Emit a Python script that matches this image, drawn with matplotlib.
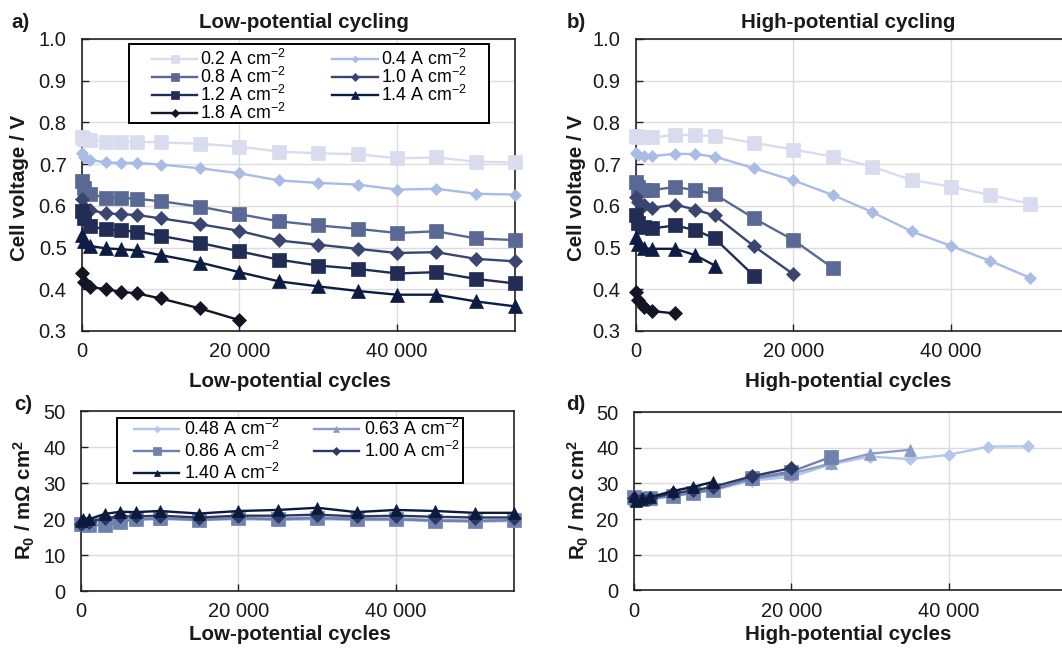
import matplotlib
matplotlib.use("Agg")
import matplotlib.pyplot as plt
from matplotlib.ticker import FuncFormatter
from matplotlib.patches import Rectangle

plt.rcParams["font.family"] = ["Liberation Sans", "DejaVu Sans"]
plt.rcParams["mathtext.fontset"] = "custom"
plt.rcParams["mathtext.rm"] = "Liberation Sans"
plt.rcParams["mathtext.bf"] = "Liberation Sans:bold"
plt.rcParams["mathtext.it"] = "Liberation Sans:italic"

# ---- cell voltage vs. cycles ----
lp_cycles = [0, 200, 1000, 3000, 5000, 7000, 10000, 15000, 20000,
             25000, 30000, 35000, 40000, 45000, 50000, 55000]
lp_02 = [0.766, 0.760, 0.757, 0.754, 0.754, 0.754, 0.752, 0.749, 0.742, 0.730, 0.726, 0.724, 0.714, 0.716, 0.706, 0.704]
lp_04 = [0.726, 0.717, 0.710, 0.704, 0.703, 0.703, 0.699, 0.690, 0.678, 0.661, 0.655, 0.651, 0.639, 0.641, 0.629, 0.627]
lp_08 = [0.660, 0.642, 0.628, 0.620, 0.619, 0.617, 0.611, 0.598, 0.580, 0.563, 0.553, 0.545, 0.535, 0.539, 0.522, 0.518]
lp_10 = [0.616, 0.597, 0.590, 0.582, 0.580, 0.578, 0.570, 0.556, 0.540, 0.517, 0.507, 0.497, 0.487, 0.489, 0.473, 0.467]
lp_12 = [0.587, 0.570, 0.551, 0.544, 0.541, 0.538, 0.528, 0.511, 0.491, 0.471, 0.457, 0.449, 0.438, 0.441, 0.425, 0.414]
lp_14 = [0.530, 0.516, 0.504, 0.498, 0.496, 0.493, 0.482, 0.464, 0.441, 0.419, 0.407, 0.396, 0.387, 0.387, 0.371, 0.359]
lp_18 = [0.438, 0.418, 0.406, 0.400, 0.394, 0.390, 0.378, 0.354, 0.326]

hp_cycles = [0, 250, 1000, 2000, 5000, 7500, 10000, 15000, 20000,
             25000, 30000, 35000, 40000, 45000, 50000]
hp_02 = [0.767, 0.766, 0.764, 0.764, 0.770, 0.770, 0.767, 0.751, 0.735, 0.718, 0.694, 0.662, 0.646, 0.626, 0.605]
hp_04 = [0.727, 0.721, 0.719, 0.719, 0.725, 0.724, 0.718, 0.690, 0.661, 0.626, 0.585, 0.539, 0.504, 0.468, 0.428]
hp_08 = [0.657, 0.645, 0.639, 0.638, 0.645, 0.638, 0.628, 0.570, 0.518, 0.451]
hp_10 = [0.621, 0.609, 0.601, 0.595, 0.603, 0.591, 0.577, 0.503, 0.436]
hp_12 = [0.578, 0.558, 0.550, 0.546, 0.553, 0.542, 0.522, 0.432]
hp_14 = [0.526, 0.509, 0.498, 0.497, 0.497, 0.482, 0.457]
hp_18 = [0.394, 0.374, 0.358, 0.348, 0.342]

v_labels = ["0.2", "0.4", "0.8", "1.0", "1.2", "1.4", "1.8"]

# ---- ohmic resistance vs. cycles ----
r_labels = ["0.48", "0.63", "0.86", "1.00", "1.40"]
lp_r048 = [18.5, 18.8, 19.0, 19.5, 19.8, 19.8, 20.0, 19.8, 20.0, 19.8, 20.0, 19.8, 19.8, 19.5, 19.3, 19.5]
lp_r063 = [18.8, 19.0, 19.0, 19.8, 20.0, 20.0, 20.2, 20.0, 20.3, 20.2, 20.5, 20.2, 20.2, 19.8, 19.6, 19.8]
lp_r086 = [18.8, 18.8, 18.5, 18.3, 19.3, 20.0, 20.3, 19.8, 20.3, 20.0, 20.3, 20.0, 20.0, 19.6, 19.5, 19.8]
lp_r100 = [18.8, 19.2, 19.3, 20.3, 20.8, 20.8, 21.0, 20.5, 21.0, 21.0, 21.3, 20.8, 21.0, 20.7, 20.5, 20.5]
lp_r140 = [19.5, 20.2, 20.0, 21.5, 22.1, 22.0, 22.3, 21.6, 22.3, 22.6, 23.2, 22.0, 22.6, 22.3, 21.8, 21.8]

hp_r048 = [25.5, 25.0, 25.2, 25.5, 26.5, 27.2, 28.0, 30.8, 31.8, 35.3, 37.5, 36.8, 38.0, 40.3, 40.4]
hp_r063 = [25.8, 25.3, 25.4, 25.7, 26.8, 27.5, 28.3, 31.2, 32.7, 35.6, 38.3, 39.4]
hp_r086 = [26.3, 25.5, 25.6, 25.8, 26.4, 27.4, 28.1, 31.5, 33.3, 37.4]
hp_r100 = [26.0, 25.2, 25.5, 25.8, 27.3, 28.0, 29.0, 32.0, 34.3]
hp_r140 = [26.5, 25.0, 25.5, 26.1, 27.9, 29.0, 30.4]

v_colors = ["#D9DCEE", "#A8BCE6", "#5A6994", "#3A4670", "#222D55", "#0D1C42", "#131525"]
v_markers = [("s", 10), ("D", 6.2), ("s", 10), ("D", 6.8), ("s", 10), ("^", 9.5), ("D", 6.8)]
r_colors = ["#B4C7EB", "#8D9CC6", "#7081B0", "#2B3963", "#0B1A3D"]
r_markers = [("D", 6.2), ("^", 9), ("s", 9.5), ("D", 6.8), ("^", 9)]

W, H = 1062, 649
fig = plt.figure(figsize=(W / 100, H / 100), dpi=100)


def box(x0, x1, ytop, ybot):
    return [x0 / W, 1 - ybot / H, (x1 - x0) / W, (ybot - ytop) / H]


ax_a = fig.add_axes(box(82, 515, 39, 331))
ax_b = fig.add_axes(box(636, 1069, 39, 331))
ax_c = fig.add_axes(box(81, 514, 411.3, 591.3))
ax_d = fig.add_axes(box(634, 1067, 412, 590.4))

thousands = FuncFormatter(lambda v, p: f"{int(round(v)):,}".replace(",", " "))


def style(ax, ylim, yticks, yfmt):
    ax.set_xlim(0, 55000)
    ax.set_ylim(*ylim)
    ax.set_xticks([0, 20000, 40000])
    ax.set_yticks(yticks)
    ax.xaxis.set_major_formatter(thousands)
    ax.yaxis.set_major_formatter(FuncFormatter(yfmt))
    ax.grid(True, color="#DCDCDC", lw=1.0)
    ax.set_axisbelow(True)
    ax.tick_params(direction="in", length=5, width=1, labelsize=14.5, color="#222", labelcolor="#1a1a1a")
    ax.tick_params(axis="x", pad=8)
    ax.tick_params(axis="y", pad=11)
    for s in ax.spines.values():
        s.set_linewidth(1.2)
        s.set_color("#222")


def draw(ax, x, ys, colors, markers):
    handles = []
    for y, c, (m, ms) in zip(ys, colors, markers):
        (h,) = ax.plot(x[:len(y)], y, color=c, lw=1.7, marker=m, ms=ms,
                       markeredgewidth=0.5, markeredgecolor=c, clip_on=False, zorder=3)
        handles.append(h)
    return handles


def legend(ax, handles, labels, frame, anchor, spacing, colsp, textpad):
    x0, x1, y0, y1 = frame
    ax.add_patch(Rectangle((x0, y0), x1 - x0, y1 - y0, transform=ax.transAxes,
                           facecolor="white", edgecolor="black", lw=1.4,
                           zorder=4.5, clip_on=False))
    order = list(range(0, len(handles), 2)) + list(range(1, len(handles), 2))
    leg = ax.legend([handles[i] for i in order], [labels[i] for i in order],
                    ncol=2, loc="upper left", bbox_to_anchor=anchor, frameon=False,
                    fontsize=12.8, handlelength=2.55, handletextpad=textpad,
                    columnspacing=colsp, labelspacing=spacing, borderpad=0,
                    borderaxespad=0, markerscale=0.55)
    leg.set_zorder(5)
    return leg


v_fmt = lambda v, p: f"{v:.1f}"
r_fmt = lambda v, p: f"{v:.0f}"

ha = draw(ax_a, lp_cycles, [lp_02, lp_04, lp_08, lp_10, lp_12, lp_14, lp_18], v_colors, v_markers)
draw(ax_b, hp_cycles, [hp_02, hp_04, hp_08, hp_10, hp_12, hp_14, hp_18], v_colors, v_markers)
hc = draw(ax_c, lp_cycles, [lp_r048, lp_r063, lp_r086, lp_r100, lp_r140], r_colors, r_markers)
draw(ax_d, hp_cycles, [hp_r048, hp_r063, hp_r086, hp_r100, hp_r140], r_colors, r_markers)

for ax in (ax_a, ax_b):
    style(ax, (0.3, 1.0), [0.3, 0.4, 0.5, 0.6, 0.7, 0.8, 0.9, 1.0], v_fmt)
for ax in (ax_c, ax_d):
    style(ax, (0, 50), [0, 10, 20, 30, 40, 50], r_fmt)

legend(ax_a, ha, [f"{c} A cm$^{{-2}}$" for c in v_labels],
       (0.1085, 0.940, 0.712, 0.983), (0.1617, 0.966), -0.11, 2.6, 0.17)
legend(ax_c, hc, [f"{c} A cm$^{{-2}}$" for c in r_labels],
       (0.0838, 0.882, 0.600, 0.961), (0.1224, 0.958), 0.12, 1.9, 0.28)

# panel letters, titles and axis labels
def ftext(x, y, s, **kw):
    fig.text(x / W, 1 - y / H, s, ha="center", va="center", **kw)

bold = dict(fontsize=14.8, fontweight="bold", color="#1a1a1a")
ftext(20, 22, "a)", **bold)
ftext(576, 22, "b)", **bold)
ftext(23, 404, "c)", **bold)
ftext(576, 404, "d)", **bold)
ftext(304, 22, "Low-potential cycling", **bold)
ftext(848, 22, "High-potential cycling", **bold)
ftext(290, 381, "Low-potential cycles", **bold)
ftext(848, 381, "High-potential cycles", **bold)
ftext(290, 634, "Low-potential cycles", **bold)
ftext(848, 634, "High-potential cycles", **bold)
ftext(20, 188, "Cell voltage / V", rotation=90, **bold)
ftext(576, 188, "Cell voltage / V", rotation=90, **bold)
ftext(24, 500, r"R$_\mathbf{0}$ / mΩ cm$^\mathbf{2}$", rotation=90, **bold)
ftext(578, 500, r"R$_\mathbf{0}$ / mΩ cm$^\mathbf{2}$", rotation=90, **bold)

fig.savefig("out.png", dpi=100)
